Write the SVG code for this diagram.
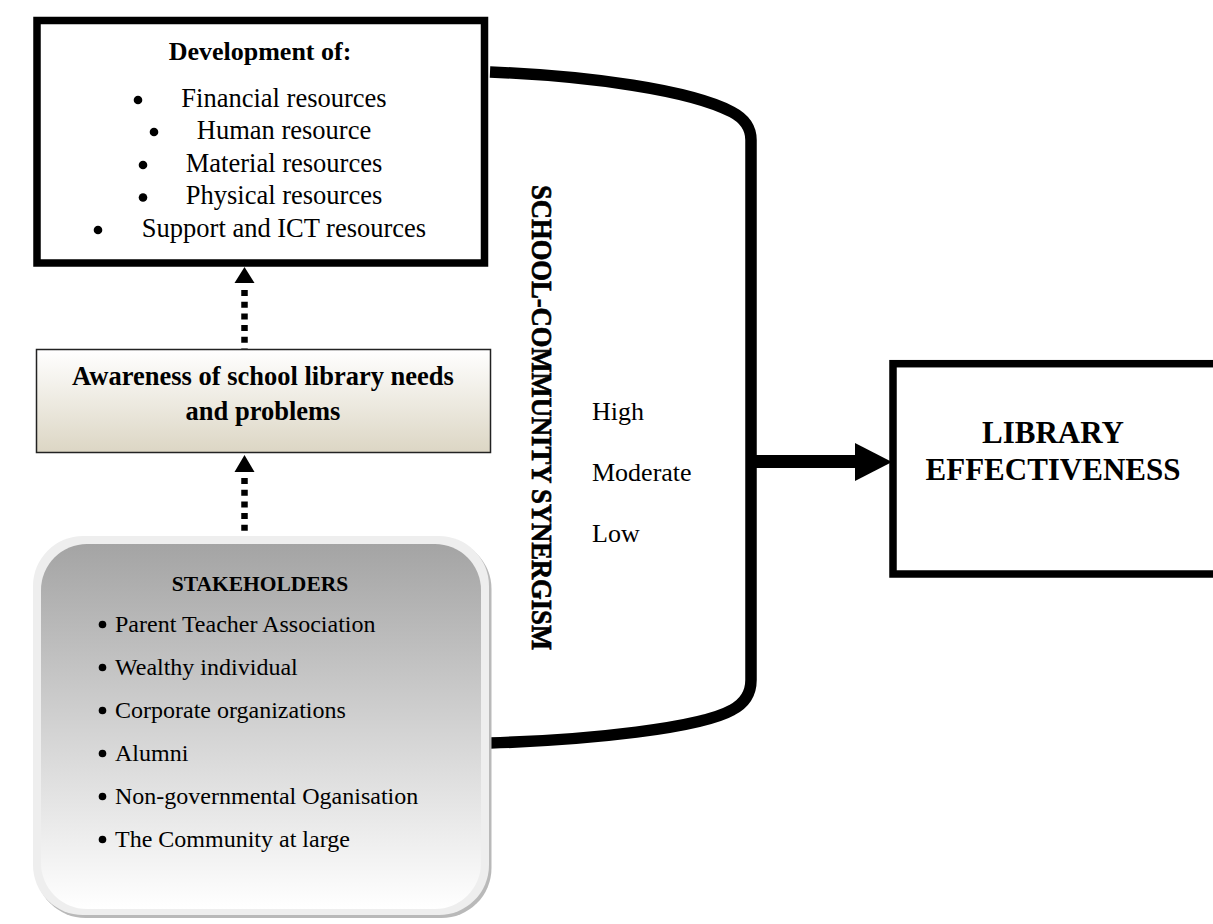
<svg xmlns="http://www.w3.org/2000/svg" width="1213" height="924" viewBox="0 0 1213 924">
  <defs>
    <linearGradient id="beige" x1="0" y1="0" x2="0" y2="1">
      <stop offset="0" stop-color="#ffffff"/>
      <stop offset="1" stop-color="#dcd6c4"/>
    </linearGradient>
    <linearGradient id="grey" x1="0" y1="0" x2="0" y2="1">
      <stop offset="0" stop-color="#a4a4a4"/>
      <stop offset="0.5" stop-color="#d2d2d2"/>
      <stop offset="1" stop-color="#ffffff"/>
    </linearGradient>
  </defs>
  <style>
    text { font-family: "Liberation Serif", "Times New Roman", serif; fill: #000; }
    .b { font-weight: bold; }
    .c { text-anchor: middle; }
    .res { font-size: 26.5px; }
    .stk { font-size: 24px; }
    .thick { fill: none; stroke: #000; }
    .dots { stroke: #000; stroke-width: 6.5; stroke-dasharray: 6 5.7; fill: none; }
    .bul { fill: #000; }
    .vert { font-size: 29px; font-weight: bold; stroke: #000; stroke-width: 0.7; }
  </style>
  <rect width="1213" height="924" fill="#ffffff"/>

  <g id="connectors">
    <path class="thick" stroke-width="11.5" d="M490,72 C590,76 690,90 732,112 Q751,122 751,140 L751,680 Q751,700 732,710 C700,728 590,740 490,743"/>
    <line x1="751" y1="461.5" x2="857" y2="461.5" stroke="#000" stroke-width="13"/>
    <polygon points="855,443 892,462 855,481" fill="#000"/>
    <line class="dots" x1="244.5" y1="290" x2="244.5" y2="349"/>
    <polygon points="244.5,267 234.5,283 254.5,283" fill="#000"/>
    <line class="dots" x1="244.5" y1="478" x2="244.5" y2="541"/>
    <polygon points="244.5,455 234.5,472 254.5,472" fill="#000"/>
  </g>

  <g id="development">
    <rect x="37" y="20.5" width="447.5" height="242.5" fill="#fff" stroke="#000" stroke-width="7.5"/>
    <text class="b c" x="260" y="60" font-size="26">Development of:</text>
    <circle class="bul" cx="138" cy="100" r="4.3"/>
    <text class="res c" x="284" y="107">Financial resources</text>
    <circle class="bul" cx="154" cy="132" r="4.3"/>
    <text class="res c" x="284" y="139">Human resource</text>
    <circle class="bul" cx="143" cy="165" r="4.3"/>
    <text class="res c" x="284" y="172">Material resources</text>
    <circle class="bul" cx="143" cy="197.5" r="4.3"/>
    <text class="res c" x="284" y="204">Physical resources</text>
    <circle class="bul" cx="98" cy="230" r="4.3"/>
    <text class="res c" x="284" y="237">Support and ICT resources</text>
  </g>

  <g id="awareness">
    <rect x="36.5" y="349.5" width="454" height="103" fill="url(#beige)" stroke="#222" stroke-width="1.5"/>
    <text class="b c" x="263" y="385" font-size="26.5">Awareness of school library needs</text>
    <text class="b c" x="263" y="420" font-size="26.5">and problems</text>
  </g>

  <g id="stakeholders">
    <rect x="35.5" y="539" width="456" height="379" rx="50" fill="#b9b9b9"/>
    <rect x="33" y="536" width="456" height="379" rx="50" fill="#eeeeee"/>
    <rect x="41" y="544" width="440" height="365" rx="46" fill="url(#grey)"/>
    <text class="b c" x="260" y="591" font-size="21.5">STAKEHOLDERS</text>
    <circle class="bul" cx="102.5" cy="624.5" r="3.8"/>
    <text class="stk" x="115" y="632">Parent Teacher Association</text>
    <circle class="bul" cx="102.5" cy="667.5" r="3.8"/>
    <text class="stk" x="115" y="675">Wealthy individual</text>
    <circle class="bul" cx="102.5" cy="710.5" r="3.8"/>
    <text class="stk" x="115" y="718">Corporate organizations</text>
    <circle class="bul" cx="102.5" cy="753.5" r="3.8"/>
    <text class="stk" x="115" y="761">Alumni</text>
    <circle class="bul" cx="102.5" cy="796.5" r="3.8"/>
    <text class="stk" x="115" y="804">Non-governmental Oganisation</text>
    <circle class="bul" cx="102.5" cy="839.5" r="3.8"/>
    <text class="stk" x="115" y="847">The Community at large</text>
  </g>

  <g id="synergism">
    <text class="vert" transform="translate(532,185) rotate(90)" x="0" y="0" textLength="465" lengthAdjust="spacingAndGlyphs">SCHOOL-COMMUNITY SYNERGISM</text>
    <text x="592" y="420" font-size="26">High</text>
    <text x="592" y="481" font-size="26">Moderate</text>
    <text x="592" y="542" font-size="26">Low</text>
  </g>

  <g id="library-effectiveness">
    <rect x="893" y="363.7" width="340" height="210.3" fill="#fff" stroke="#000" stroke-width="7.5"/>
    <text class="b c" x="1053" y="443" font-size="31">LIBRARY</text>
    <text class="b c" x="1053" y="480" font-size="31">EFFECTIVENESS</text>
  </g>
</svg>
